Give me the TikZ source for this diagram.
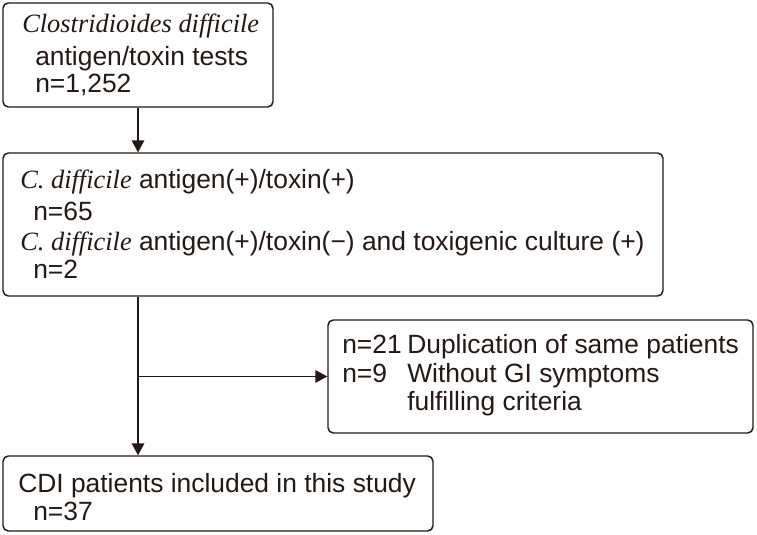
\documentclass[tikz,border=0pt]{standalone}
\usepackage{fontspec}
\setmainfont{Liberation Serif}
\setsansfont{Liberation Sans}
\usetikzlibrary{arrows.meta}
\definecolor{ink}{HTML}{231815}

\begin{document}
\begin{tikzpicture}[x=0.75pt, y=-0.75pt, >={Triangle[length=9pt,width=9.5pt]},
    box/.style={draw=ink, line width=1.1pt, rounded corners=4pt, inner sep=0pt},
    txt/.style={anchor=base west, inner sep=0pt, text=ink,
        font=\sffamily\fontsize{19.8}{24}\selectfont},
    arr/.style={draw=ink, line width=1.1pt, ->}]
    \useasboundingbox (0,0) rectangle (757,535);

    % The boxes
    \node[box, minimum width=202.5pt, minimum height=78pt] (tests) at (138,55) {};
    \node[box, minimum width=495pt, minimum height=107.25pt] (pos) at (333,224.5) {};
    \node[box, minimum width=318.75pt, minimum height=84.75pt] (excl) at (540.5,376.5) {};
    \node[box, minimum width=322.5pt, minimum height=56.25pt] (cdi) at (218,493.5) {};

    % texts
    \node[txt] (testsA) at (22,33) {\rmfamily\itshape Clostridioides difficile};
    \node[txt] (testsB) at (35,65) {antigen/toxin tests};
    \node[txt] (testsC) at (35,93) {n=1,252};

    \node[txt] (posA) at (20,188) {{\rmfamily\itshape C. difficile} antigen(+)/toxin(+)};
    \node[txt] (posB) at (33,220) {n=65};
    \node[txt] (posC) at (20,250) {{\rmfamily\itshape C. difficile} antigen(+)/toxin(−) and toxigenic culture (+)};
    \node[txt] (posD) at (33,278) {n=2};

    \node[txt] (exclA) at (342,353) {n=21};
    \node[txt] (exclB) at (407,353) {Duplication of same patients};
    \node[txt] (exclC) at (342,382) {n=9};
    \node[txt] (exclD) at (407,382) {Without GI symptoms};
    \node[txt] (exclE) at (407,410) {fulfilling criteria};

    \node[txt] (cdiA) at (18,492) {CDI patients included in this study};
    \node[txt] (cdiB) at (33,520) {n=37};

    % arrows
    \draw[arr] (tests.south) -- (tests.south |- pos.north);
    \draw[arr] (tests.south |- pos.south) -- (tests.south |- cdi.north);
    \coordinate (branch) at (tests.south |- excl.west);
    \draw[arr] (branch) -- (excl.west);
\end{tikzpicture}
\end{document}
